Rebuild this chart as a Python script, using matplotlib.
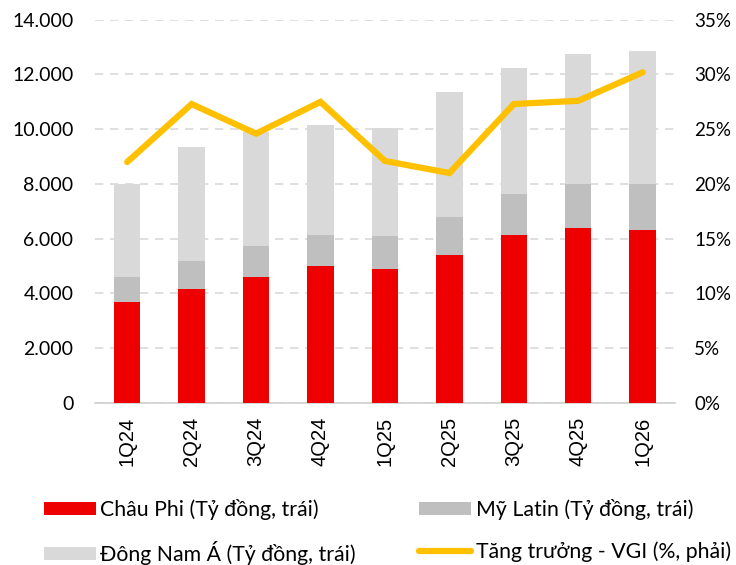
import matplotlib

matplotlib.use("Agg")
import matplotlib.pyplot as plt
from matplotlib.ticker import FuncFormatter

quarters = ["1Q24", "2Q24", "3Q24", "4Q24", "1Q25", "2Q25", "3Q25", "4Q25", "1Q26"]
# stacked revenue, ty dong
chau_phi = [3700, 4150, 4600, 5000, 4900, 5400, 6150, 6400, 6300]
my_latin = [900, 1050, 1150, 1150, 1200, 1400, 1500, 1600, 1700]
dong_nam_a = [3400, 4150, 4150, 4000, 3950, 4550, 4600, 4750, 4850]
tang_truong = [22.0, 27.3, 24.6, 27.5, 22.1, 21.0, 27.3, 27.6, 30.2]

RED = "#EE0000"
MID = "#BFBFBF"
LIGHT = "#D9D9D9"
YELLOW = "#FFC000"

plt.rcParams["font.family"] = ["Lato", "DejaVu Sans"]

fig = plt.figure(figsize=(7.36, 5.65), dpi=100)
ax = fig.add_axes([0.129, 0.287, 0.788, 0.678])
x = list(range(len(quarters)))
w = 0.41

b1 = ax.bar(x, chau_phi, w, color=RED, label="Châu Phi (Tỷ đồng, trái)", zorder=3)
b2 = ax.bar(x, my_latin, w, bottom=chau_phi, color=MID, label="Mỹ Latin (Tỷ đồng, trái)", zorder=3)
base3 = [a + b for a, b in zip(chau_phi, my_latin)]
b3 = ax.bar(x, dong_nam_a, w, bottom=base3, color=LIGHT, label="Đông Nam Á (Tỷ đồng, trái)", zorder=3)

ax.set_ylim(0, 14000)
ax.set_yticks(range(0, 14001, 2000))
ax.yaxis.set_major_formatter(FuncFormatter(lambda v, p: f"{int(v):,}".replace(",", ".")))
ax.set_xlim(-0.5, len(quarters) - 0.5)
ax.set_xticks(x)
ax.set_xticklabels(quarters, rotation=90, fontsize=14.5, family=["Liberation Sans", "DejaVu Sans"])
ax.grid(axis="y", color="#D9D9D9", linestyle=(0, (5, 4)), linewidth=1.2, zorder=0)
for s in ["top", "right", "left"]:
    ax.spines[s].set_visible(False)
ax.spines["bottom"].set_color("#D0D0D0")
ax.spines["bottom"].set_linewidth(1.2)
ax.tick_params(axis="y", length=0, labelsize=14, pad=15.5)
ax.tick_params(axis="x", length=0, pad=10)

ax2 = ax.twinx()
(ln,) = ax2.plot(x, tang_truong, color=YELLOW, linewidth=4.5, solid_capstyle="round",
                 solid_joinstyle="miter", label="Tăng trưởng - VGI (%, phải)", zorder=4)
ax2.set_ylim(0, 35)
ax2.set_yticks(range(0, 36, 5))
ax2.yaxis.set_major_formatter(FuncFormatter(lambda v, p: f"{int(v)}%"))
for s in ["top", "right", "left", "bottom"]:
    ax2.spines[s].set_visible(False)
ax2.tick_params(length=0, labelsize=13.5, pad=14)

fig.legend([b1, b3, b2, ln],
           [b1.get_label(), b3.get_label(), b2.get_label(), ln.get_label()],
           ncol=2, loc="upper left", bbox_to_anchor=(0.045, 0.136), frameon=False,
           fontsize=15.3, handlelength=2.45, handleheight=0.55, handletextpad=0.2,
           columnspacing=3.0, labelspacing=1.0, borderpad=0.0)

fig.savefig("out.png", dpi=100)
